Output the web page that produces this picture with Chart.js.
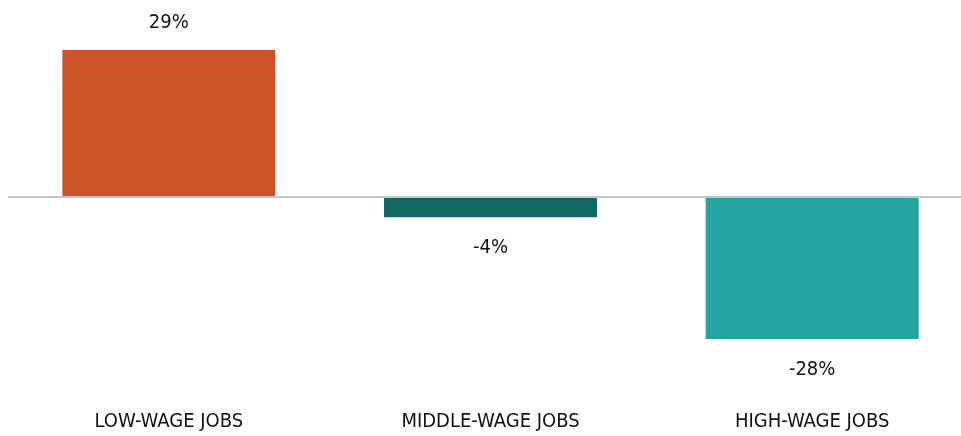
<!DOCTYPE html>
<html>
<head>
<meta charset="utf-8">
<script src="https://cdn.jsdelivr.net/npm/chart.js@4/dist/chart.umd.min.js"></script>
<style>
  html, body { margin: 0; padding: 0; background: #fff; overflow: hidden; }
  #wrap { width: 975px; height: 436px; }
</style>
</head>
<body>
<div id="wrap"><canvas id="myChart" width="975" height="436"></canvas></div>
<script>
const categories = ['LOW-WAGE JOBS', 'MIDDLE-WAGE JOBS', 'HIGH-WAGE JOBS']
const changes = [29, -4, -28]
const barColors = ['#CB5428', '#156766', '#25A39E']

const FONT = "'Liberation Sans Narrow', 'DejaVu Sans Condensed', 'Roboto', sans-serif"

// percent labels above / below each bar
const valueLabels = {
  id: 'valueLabels',
  afterDatasetsDraw(chart) {
    const ctx = chart.ctx
    const meta = chart.getDatasetMeta(0)
    ctx.save()
    ctx.font = '20px ' + FONT
    ctx.fillStyle = '#111'
    ctx.textAlign = 'center'
    ctx.textBaseline = 'middle'
    meta.data.forEach(function (bar, i) {
      const v = changes[i]
      const y = v >= 0 ? bar.y - 27 : bar.y + 31
      ctx.fillText(v + '%', bar.x, y)
    })
    ctx.restore()
  }
}

const ctx = document.getElementById('myChart')
const myChart = new Chart(ctx, {
  type: 'bar',
  data: {
    labels: categories,
    datasets: [{
      data: changes,
      backgroundColor: barColors,
      borderWidth: 0,
      barPercentage: 1,
      categoryPercentage: 0.662
    }]
  },
  options: {
    responsive: false,
    animation: false,
    layout: { padding: { left: 8, right: 2, top: 20, bottom: 0 } },
    plugins: {
      legend: { display: false },
      tooltip: { enabled: false }
    },
    scales: {
      x: {
        grid: { display: false, drawTicks: false },
        border: { display: false },
        ticks: {
          padding: 2,
          color: '#111',
          font: { family: FONT, size: 20 }
        }
      },
      y: {
        min: -41.6,
        max: 34.9,
        afterBuildTicks: function (axis) {
          axis.ticks = [{ value: 0 }]
        },
        ticks: { display: false },
        border: { display: false },
        grid: {
          drawTicks: false,
          lineWidth: 2,
          color: '#c6c6c6'
        }
      }
    }
  },
  plugins: [valueLabels]
})
</script>
</body>
</html>
